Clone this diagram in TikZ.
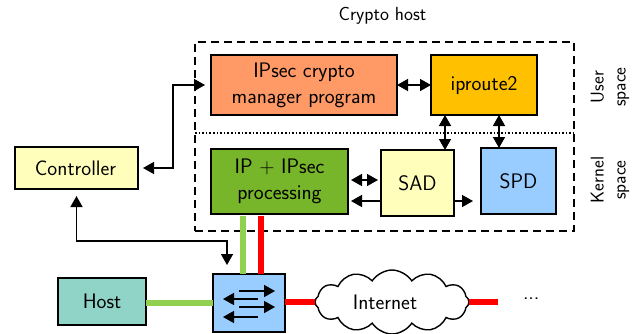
\documentclass[tikz,border=0pt]{standalone}
\usepackage{tikz}
\usetikzlibrary{shapes,shapes.symbols,positioning,arrows.meta}

\definecolor{ipsecorange}{HTML}{FF9966}
\definecolor{routegold}{HTML}{FFC000}
\definecolor{paleyellow}{HTML}{FFFFBB}
\definecolor{procgreen}{HTML}{77B52A}
\definecolor{paleblue}{HTML}{99CCFF}
\definecolor{hostteal}{HTML}{8FD4C6}
\definecolor{linkgreen}{HTML}{92D050}

\tikzset{
    box/.style={draw,line width=1.8pt,inner sep=0,outer sep=0,align=center},
    ctrl/.style={line width=1.5pt,>={Triangle[length=11pt,width=12pt]}},
    plain/.style={inner sep=0,outer sep=0,align=center},
    greenlink/.style={linkgreen,line width=6pt},
    redlink/.style={red,line width=6pt}
}

\begin{document}
\begin{tikzpicture}[x=1pt,y=-1pt,font=\fontsize{21}{26}\sffamily]
\useasboundingbox (0,0) rectangle (634,333);

% Crypto host area
\node[draw,line width=1.5pt,dash pattern=on 8pt off 5pt,
    plain,
    minimum width=379pt,
    minimum height=189pt] (area) at (384.5,136.5) {};

\node[plain,above=18pt of area,xshift=-2pt,font=\fontsize{19}{22}\sffamily] (title) {Crypto host};

% User space
\node[box,fill=ipsecorange,
    minimum width=186pt,
    minimum height=60pt] (manager) at (304,85) {IPsec crypto \\ manager program};

\node[box,fill=routegold,
    right=34pt of manager,
    minimum width=106pt,
    minimum height=60pt] (iproute) {iproute2};

% Kernel space
\node[box,fill=procgreen,
    minimum width=137pt,
    minimum height=65pt] (proc) at (279.5,181.5) {IP + IPsec \\ processing};

\node[box,fill=paleyellow,
    right=33pt of proc,yshift=-1.5pt,
    minimum width=73pt,
    minimum height=66pt] (sad) {SAD};

\node[box,fill=paleblue,
    right=27pt of sad,yshift=2pt,
    minimum width=75pt,
    minimum height=66pt] (spd) {SPD};

% Side labels
\node[plain,rotate=90,font=\fontsize{18.5}{22}\sffamily] (user) at (610,87) {User \\ space};
\node[plain,rotate=90,font=\fontsize{18.5}{22}\sffamily] (kernel) at (610,180) {Kernel \\ space};

\coordinate (split) at (0,133);
\draw[dotted,line width=1.6pt] (area.west |- split) -- (area.east |- split);

% Outside of the host
\node[box,fill=paleyellow,
    minimum width=123pt,
    minimum height=42pt] (controller) at (76.5,168) {\hspace*{-2pt}Controller};

\node[box,fill=paleblue,
    minimum width=72pt,
    minimum height=58pt] (switch) at (249,303) {};

\node[box,fill=hostteal,line width=1.4pt,
    left=67pt of switch,yshift=1.5pt,
    minimum width=88pt,
    minimum height=47pt] (host) {Host};

\node[draw,cloud,cloud puffs=12,cloud puff arc=115,cloud ignores aspect,
    line width=1.4pt,inner sep=0,outer sep=0,
    right=30pt of switch,yshift=1pt,
    minimum width=154pt,
    minimum height=64pt] (internet) {\hspace*{-14pt}Internet};

\coordinate[right=29pt of internet] (inetend);
\node[plain,right=25pt of inetend,yshift=3pt] (more) {...};

% Data links
\draw[greenlink,shorten <=2pt] ([xshift=-36.5pt]proc.south) coordinate (gtop) -- (gtop |- switch.north);
\draw[redlink,shorten <=2pt] ([xshift=-18.5pt]proc.south) coordinate (rtop) -- (rtop |- switch.north);
\draw[greenlink] (host.east |- switch) -- (switch.west);
\draw[redlink] (switch.east |- internet) -- (internet.west);
\draw[redlink] (internet.east) -- (inetend);

% Control arrows
\coordinate (upper) at (173,85);
\coordinate (lower) at (227,241);

\draw[ctrl,<->,shorten <=5pt,shorten >=6pt] (controller.east) -| (upper) -- (manager.west);
\draw[ctrl,<->,shorten <=7pt,shorten >=9pt] (controller.south) |- (lower) -- (lower |- switch.north);
\draw[ctrl,<->] (manager.east) -- (iproute.west);
\draw[ctrl,<->] ([xshift=27.5pt]sad.north) coordinate (sadup) -- (sadup |- iproute.south);
\draw[ctrl,<->] ([xshift=-19.5pt]spd.north) coordinate (spdup) -- (spdup |- iproute.south);
\draw[ctrl,<->,shorten <=3pt,shorten >=3pt] ([yshift=3pt]sad.west) coordinate (sadtop) -- (sadtop -| proc.east);
\draw[ctrl,->,shorten >=3pt] ([yshift=-18pt]sad.west) coordinate (sadlow) -- (sadlow -| proc.east);
\draw[ctrl,->,shorten >=8pt] ([yshift=-18pt]sad.east) coordinate (sadout) -- (sadout -| spd.west);

% Switch arrows
\draw[ctrl,->] ([shift={(-10pt,12pt)}]switch.center) -- ([shift={(26pt,12pt)}]switch.center);
\draw[ctrl,->] ([shift={(9pt,4pt)}]switch.center) -- ([shift={(-26pt,4pt)}]switch.center);
\draw[ctrl,->] ([shift={(-10pt,-4pt)}]switch.center) -- ([shift={(26pt,-4pt)}]switch.center);
\draw[ctrl,->] ([shift={(9pt,-14pt)}]switch.center) -- ([shift={(-26pt,-14pt)}]switch.center);

\end{tikzpicture}
\end{document}
